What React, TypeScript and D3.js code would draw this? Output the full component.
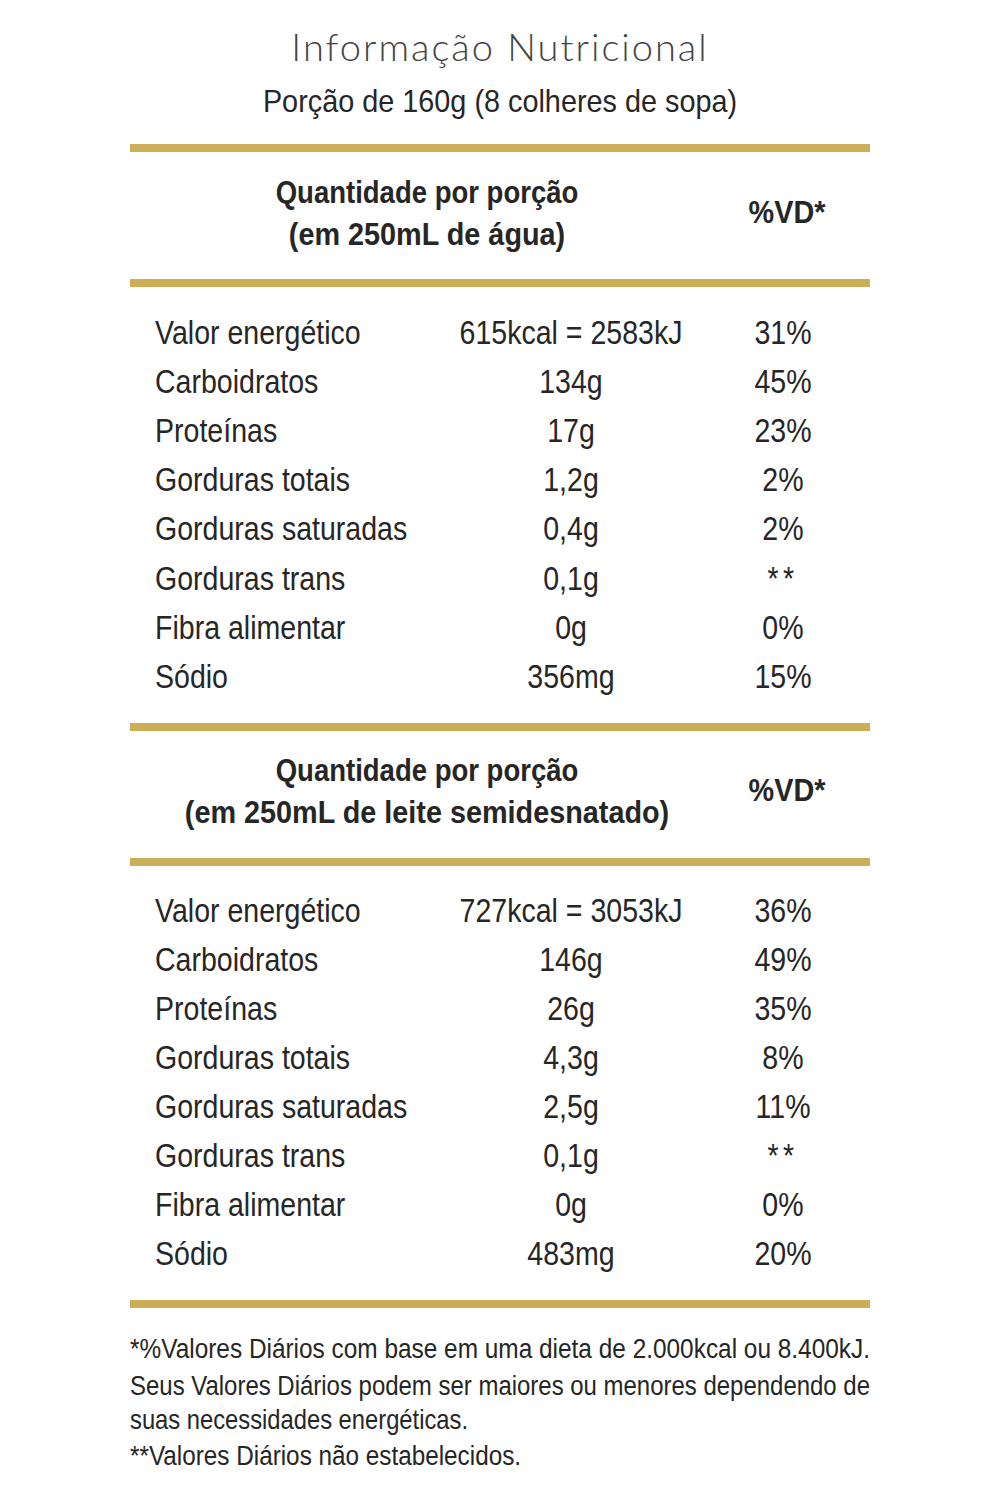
import React from "react";
import * as d3 from "d3";

const title = "Informação Nutricional";
const subtitle = "Porção de 160g (8 colheres de sopa)";
const headerWater = ["Quantidade por porção", "(em 250mL de água)"];
const headerMilk = ["Quantidade por porção", "(em 250mL de leite semidesnatado)"];
const vdHeader = "%VD*";
const nutrients = [
  "Valor energético",
  "Carboidratos",
  "Proteínas",
  "Gorduras totais",
  "Gorduras saturadas",
  "Gorduras trans",
  "Fibra alimentar",
  "Sódio",
];
const waterAmounts = ["615kcal = 2583kJ", "134g", "17g", "1,2g", "0,4g", "0,1g", "0g", "356mg"];
const waterVD = ["31%", "45%", "23%", "2%", "2%", "**", "0%", "15%"];
const milkAmounts = ["727kcal = 3053kJ", "146g", "26g", "4,3g", "2,5g", "0,1g", "0g", "483mg"];
const milkVD = ["36%", "49%", "35%", "8%", "11%", "**", "0%", "20%"];
const footnotes = [
  "*%Valores Diários com base em uma dieta de 2.000kcal ou 8.400kJ.",
  "Seus Valores Diários podem ser maiores ou menores dependendo de",
  "suas necessidades energéticas.",
  "**Valores Diários não estabelecidos.",
];

const GOLD = "#CDAE58";
const INK = "#262626";
const SANS = "'Liberation Sans', Arial, sans-serif";

type TProps = {
  x: number;
  y: number;
  sx?: number;
  size: number;
  anchor?: "start" | "middle" | "end";
  weight?: number | string;
  children: React.ReactNode;
  family?: string;
  fill?: string;
  ls?: number;
  textLength?: number;
};

function T({ x, y, sx = 1, size, anchor = "start", weight = 400, children, family = SANS, fill = INK, ls, textLength }: TProps) {
  return (
    <text
      transform={`translate(${x},${y}) scale(${sx},1)`}
      fontFamily={family}
      fontSize={size}
      fontWeight={weight}
      textAnchor={anchor}
      fill={fill}
      letterSpacing={ls}
      textLength={textLength}
      lengthAdjust={textLength ? "spacingAndGlyphs" : undefined}
    >
      {children}
    </text>
  );
}

export default function App() {
  const W = 1000;
  const H = 1499;
  const left = 130;
  const right = 870;

  const col = d3
    .scaleOrdinal<string, number>()
    .domain(["label", "amount", "vd"])
    .range([155, 571, 783]);

  const rows1 = d3
    .scalePoint<string>()
    .domain(nutrients)
    .range([344, 344 + 7 * 49.1]);
  const rows2 = d3
    .scalePoint<string>()
    .domain(nutrients)
    .range([922, 922 + 7 * 49.0]);

  const bars = [148, 283, 727, 862, 1304];

  const bodySize = 33;
  const bodySx = 0.865;

  const table = (rows: d3.ScalePoint<string>, amounts: string[], vds: string[]) =>
    nutrients.map((n, i) => {
      const y = rows(n) as number;
      return (
        <g key={n}>
          <T x={col("label")} y={y} size={bodySize} sx={bodySx}>
            {n}
          </T>
          <T x={col("amount")} y={y} size={bodySize} sx={bodySx} anchor="middle">
            {amounts[i]}
          </T>
          <T
            x={col("vd")}
            y={y}
            size={bodySize}
            sx={bodySx}
            anchor="middle"
            ls={vds[i] === "**" ? 5 : undefined}
          >
            {vds[i]}
          </T>
        </g>
      );
    });

  const header = (lines: string[], y0: number, vdY: number) => (
    <g>
      <T x={427} y={y0} size={32} sx={0.86} weight={700} anchor="middle">
        {lines[0]}
      </T>
      <T x={427} y={y0 + 42} size={32} sx={0.9} weight={700} anchor="middle">
        {lines[1]}
      </T>
      <T x={787} y={vdY} size={31} sx={0.93} weight={700} anchor="middle">
        {vdHeader}
      </T>
    </g>
  );

  return (
    <svg width={W} height={H} viewBox={`0 0 ${W} ${H}`} style={{ display: "block", position: "absolute", left: 0, top: 0, background: "#fff" }}>
      <rect x={0} y={0} width={W} height={H} fill="#fff" />
      <T x={500} y={61} size={38} anchor="middle" family="Lato, 'Open Sans', sans-serif" weight={300} fill="#444" ls={2}>
        {title}
      </T>
      <T x={500} y={112} size={31} sx={0.93} anchor="middle">
        {subtitle}
      </T>

      {bars.map((b) => (
        <rect key={b} x={left} y={b - 4} width={right - left} height={8} fill={GOLD} />
      ))}

      {header(headerWater, 203, 223)}
      {table(rows1, waterAmounts, waterVD)}

      {header(headerMilk, 781, 801)}
      {table(rows2, milkAmounts, milkVD)}

      <T x={left} y={1358} size={27} textLength={740}>
        {footnotes[0]}
      </T>
      <T x={left} y={1395} size={27} textLength={740}>
        {footnotes[1]}
      </T>
      <T x={left} y={1429} size={27} sx={0.88}>
        {footnotes[2]}
      </T>
      <T x={left} y={1465} size={27} sx={0.9}>
        {footnotes[3]}
      </T>
    </svg>
  );
}
